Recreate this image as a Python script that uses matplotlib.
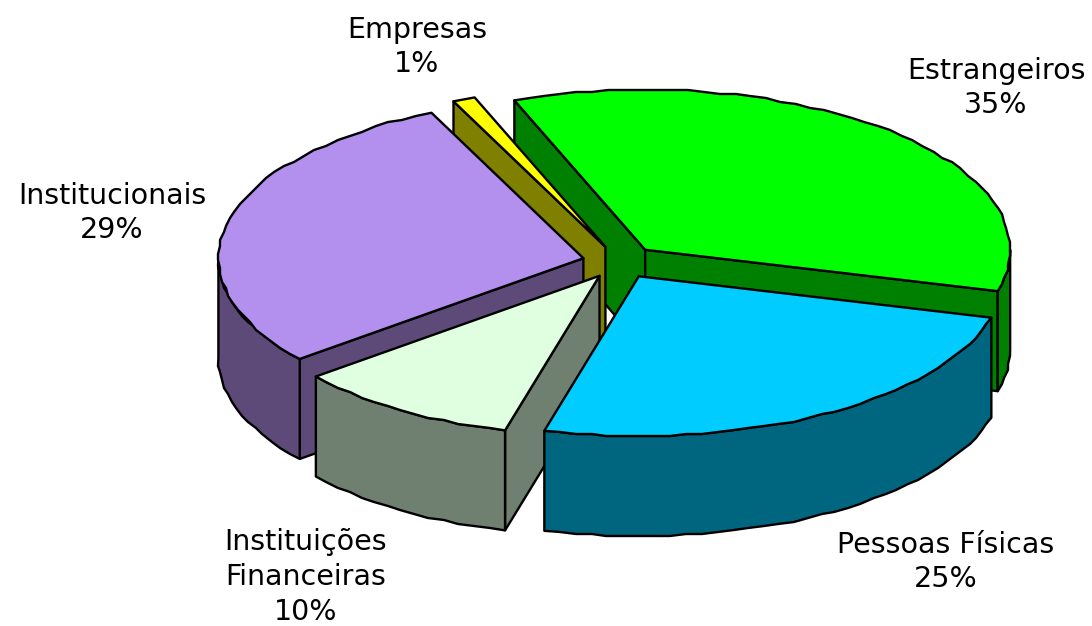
import numpy as np
import matplotlib
matplotlib.use("Agg")
import matplotlib.pyplot as plt
from matplotlib.patches import Polygon

# data (in drawing order: back to front)
categories = ["Estrangeiros", "Empresas", "Institucionais", "Instituições\nFinanceiras", "Pessoas Físicas"]
shares = [35, 1, 29, 10, 25]
top_colors = ["#00FF00", "#FFFF00", "#B38FEE", "#E0FFE0", "#00CCFF"]
side_colors = ["#008000", "#808000", "#5D4A78", "#708070", "#006680"]
label_xy = [(996, 88), (417, 47), (112, 213), (306, 577), (946, 562)]
# angular order around the pie (clockwise from start)
clock_order = ["Estrangeiros", "Pessoas Físicas", "Instituições\nFinanceiras", "Institucionais", "Empresas"]

W, H = 1092, 626
CX, CY, RX, RY, DEPTH, EXPLODE, START = 620, 262, 365, 160, 100, 0.103, 111

fig = plt.figure(figsize=(W / 100, H / 100), dpi=100)
ax = fig.add_axes([0, 0, 1, 1])
ax.set_xlim(0, W)
ax.set_ylim(H, 0)
ax.axis("off")

# compute angular spans
spans = {}
a = START
for c in clock_order:
    s = shares[categories.index(c)]
    spans[c] = (a - s * 3.6, a)
    a -= s * 3.6

EDGE = dict(edgecolor="black", linewidth=1.7, joinstyle="round")

def arc(cx, cy, t1, t2, dy=0, step=2.5):
    n = max(2, int(abs(t2 - t1) / step) + 1)
    t = np.radians(np.linspace(t1, t2, n))
    x = cx + RX * np.cos(t)
    y = cy - RY * np.sin(t) + dy
    # slight stair-stepping of the low-resolution original outline
    if n > 2:
        x[1:-1] = np.round(x[1:-1] / 2) * 2
        y[1:-1] = np.round(y[1:-1] / 2) * 2
    return np.column_stack([x, y])

def poly(pts, color, z):
    ax.add_patch(Polygon(pts, closed=True, facecolor=color, zorder=z, **EDGE))

for i, cat in enumerate(categories):
    lo, hi = spans[cat]
    mid = np.radians((lo + hi) / 2)
    cx = CX + EXPLODE * RX * np.cos(mid)
    cy = CY - EXPLODE * RY * np.sin(mid)
    side, top = side_colors[i], top_colors[i]
    z = i * 10
    # radial cut faces
    for ang, vis in ((hi, np.cos(np.radians(hi)) < 0), (lo, np.cos(np.radians(lo)) > 0)):
        if vis:
            r = np.radians(ang)
            px, py = cx + RX * np.cos(r), cy - RY * np.sin(r)
            poly([(cx, cy), (px, py), (px, py + DEPTH), (cx, cy + DEPTH)], side, z)
    # outer wall, front half only
    for k in (-1, 0):
        a1 = max(lo, -180 + 360 * k)
        a2 = min(hi, 0 + 360 * k)
        if a2 > a1:
            up = arc(cx, cy, a1, a2)
            down = arc(cx, cy, a2, a1, dy=DEPTH)
            poly(np.vstack([up, down]), side, z + 1)
    # top face
    poly(np.vstack([[(cx, cy)], arc(cx, cy, hi, lo)]), top, z + 2)
    ax.text(label_xy[i][0], label_xy[i][1],
            f"{cat}\n{shares[i]}%", ha="center", va="center", multialignment="center",
            fontsize=20.5, family="DejaVu Sans", color="black", linespacing=1.3, zorder=100)

fig.savefig("out.png", dpi=100, facecolor="white")
